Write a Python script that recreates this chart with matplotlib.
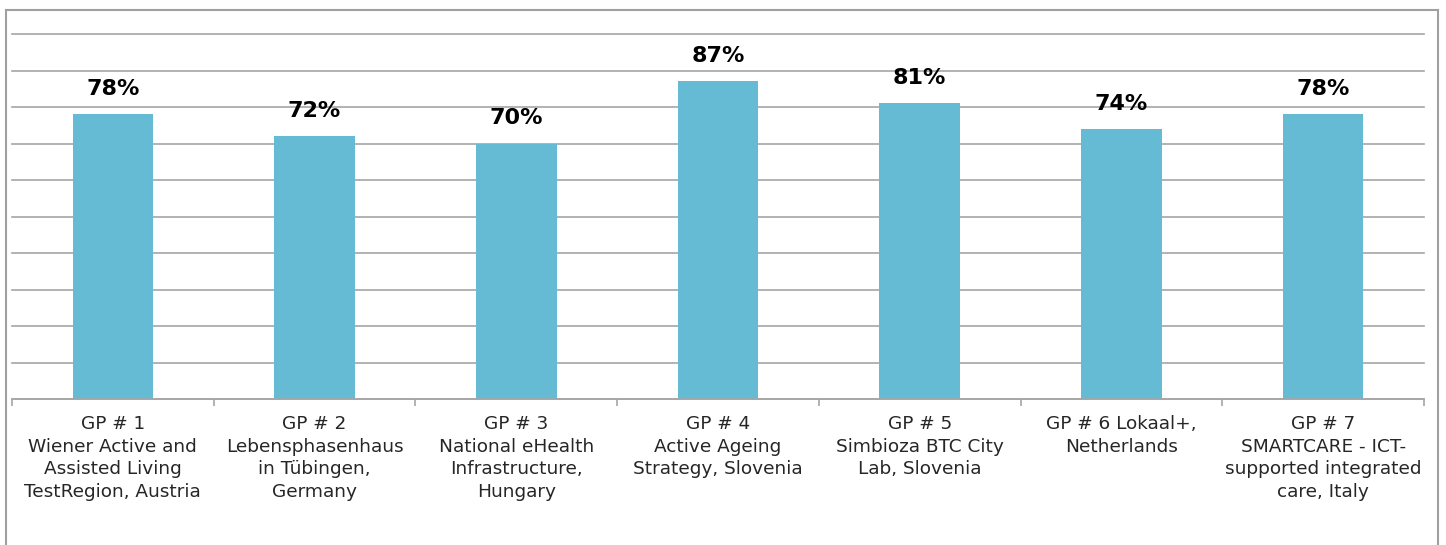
import matplotlib
matplotlib.use("Agg")
import matplotlib.pyplot as plt
from matplotlib.patches import Rectangle
import numpy as np

categories = [
    "GP # 1\nWiener Active and\nAssisted Living\nTestRegion, Austria",
    "GP # 2\nLebensphasenhaus\nin Tübingen,\nGermany",
    "GP # 3\nNational eHealth\nInfrastructure,\nHungary",
    "GP # 4\nActive Ageing\nStrategy, Slovenia",
    "GP # 5\nSimbioza BTC City\nLab, Slovenia",
    "GP # 6 Lokaal+,\nNetherlands",
    "GP # 7\nSMARTCARE - ICT-\nsupported integrated\ncare, Italy",
]
values = [78, 72, 70, 87, 81, 74, 78]
value_labels = ["78%", "72%", "70%", "87%", "81%", "74%", "78%"]

W, H = 1446, 545
fig = plt.figure(figsize=(W / 100, H / 100), dpi=100)
ax = fig.add_axes([12 / W, 1 - 399 / H, (1424 - 12) / W, (399 - 34) / H])

x = np.arange(len(values))
ax.bar(x, values, width=0.4, color="#64BBD3", zorder=2)

ax.set_xlim(-0.5, len(values) - 0.5)
ax.set_ylim(0, 100)
ax.set_yticks(np.arange(0, 101, 10))
ax.yaxis.grid(True, color="#A6A6A6", linewidth=1.2, zorder=0)
for gl in ax.get_ygridlines():
    gl.set_clip_on(False)
ax.set_axisbelow(True)
ax.tick_params(axis="y", left=False, labelleft=False)

for s in ["top", "right", "left"]:
    ax.spines[s].set_visible(False)
ax.spines["bottom"].set_color("#A6A6A6")
ax.spines["bottom"].set_linewidth(1.2)

ax.set_xticks(x)
ax.set_xticklabels(categories, fontsize=13.3, color="#262626", linespacing=1.33,
                   family="DejaVu Sans")
ax.tick_params(axis="x", length=0, pad=11.5)
ax.set_xticks(np.arange(-0.5, len(values), 1), minor=True)
ax.tick_params(axis="x", which="minor", length=5, width=1.2, color="#A6A6A6", direction="out")

for xi, v, lab in zip(x, values, value_labels):
    ax.annotate(lab, (xi, v), xytext=(0, 11), textcoords="offset points",
                ha="center", va="bottom", fontsize=16, fontweight="bold", color="black")

fig.patches.append(Rectangle((6 / W, -0.05), (1438 - 6) / W, 1.05 - 10 / H,
                             transform=fig.transFigure, fill=False,
                             edgecolor="#A0A0A0", linewidth=1.5))

fig.savefig("out.png", dpi=100)
